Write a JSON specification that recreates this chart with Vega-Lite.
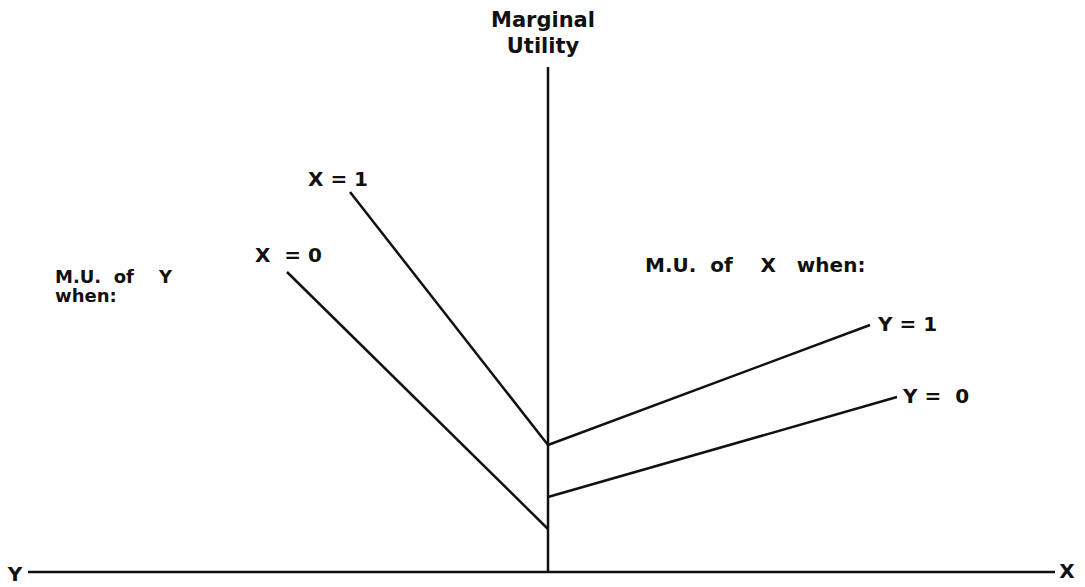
{
  "$schema": "https://vega.github.io/schema/vega-lite/v6.json",
  "width": 1085,
  "height": 587,
  "autosize": {"type": "fit", "contains": "padding"},
  "padding": 0,
  "background": "#ffffff",
  "config": {"view": {"stroke": null}},
  "datasets": {
    "segments": [
      {"seg": "vertical axis", "pt": 1, "u": 0, "v": 0},
      {"seg": "vertical axis", "pt": 2, "u": 0, "v": 101},
      {"seg": "horizontal axis", "pt": 1, "u": -104, "v": 0},
      {"seg": "horizontal axis", "pt": 2, "u": 101.4, "v": 0},
      {"seg": "MU of Y, X = 1", "pt": 1, "u": -39.6, "v": 76},
      {"seg": "MU of Y, X = 1", "pt": 2, "u": 0, "v": 25.4},
      {"seg": "MU of Y, X = 0", "pt": 1, "u": -52.2, "v": 60},
      {"seg": "MU of Y, X = 0", "pt": 2, "u": 0, "v": 8.6},
      {"seg": "MU of X, Y = 1", "pt": 1, "u": 0, "v": 25.4},
      {"seg": "MU of X, Y = 1", "pt": 2, "u": 64.4, "v": 49.4},
      {"seg": "MU of X, Y = 0", "pt": 1, "u": 0, "v": 15},
      {"seg": "MU of X, Y = 0", "pt": 2, "u": 69.8, "v": 35}
    ],
    "leftLabels": [
      {"label": "X\u00a0\u00a0=\u00a00", "u": -58.6, "v": 63.2},
      {"label": "X = 1", "u": -48, "v": 78.4},
      {"label": "M.U.\u00a0\u00a0of\u00a0\u00a0\u00a0\u00a0X\u00a0\u00a0\u00a0when:", "u": 19.4, "v": 61.2},
      {"label": "Y = 1", "u": 66, "v": 49.4},
      {"label": "Y =\u00a0\u00a00", "u": 71, "v": 35}
    ],
    "noteLabels": [
      {"label": "M.U.\u00a0\u00a0of\u00a0\u00a0\u00a0\u00a0Y\nwhen:", "u": -98.6, "v": 58.8}
    ],
    "titleLabels": [
      {"label": "Marginal\nUtility", "u": -1, "v": 110.3}
    ],
    "axisLabels": [
      {"label": "Y", "u": -106.6, "v": -0.6},
      {"label": "X", "u": 103.8, "v": 0}
    ]
  },
  "layer": [
    {
      "data": {"name": "segments"},
      "mark": {"type": "line", "stroke": "#111111", "strokeWidth": 2.5},
      "encoding": {
        "x": {"field": "u", "type": "quantitative", "scale": {"domain": [-109.6, 107.4], "nice": false, "zero": false}, "axis": null},
        "y": {"field": "v", "type": "quantitative", "scale": {"domain": [-3, 114.4], "nice": false, "zero": false}, "axis": null},
        "detail": {"field": "seg", "type": "nominal"},
        "order": {"field": "pt", "type": "quantitative"}
      }
    },
    {
      "data": {"name": "leftLabels"},
      "mark": {"type": "text", "align": "left", "baseline": "middle", "font": "DejaVu Sans", "fontWeight": "bold", "fontSize": 20, "fill": "#111111"},
      "encoding": {
        "x": {"field": "u", "type": "quantitative"},
        "y": {"field": "v", "type": "quantitative"},
        "text": {"field": "label"}
      }
    },
    {
      "data": {"name": "noteLabels"},
      "mark": {"type": "text", "align": "left", "baseline": "middle", "font": "DejaVu Sans", "fontWeight": "bold", "fontSize": 18, "lineBreak": "\n", "lineHeight": 19, "fill": "#111111"},
      "encoding": {
        "x": {"field": "u", "type": "quantitative"},
        "y": {"field": "v", "type": "quantitative"},
        "text": {"field": "label"}
      }
    },
    {
      "data": {"name": "titleLabels"},
      "mark": {"type": "text", "align": "center", "baseline": "middle", "font": "DejaVu Sans", "fontWeight": "bold", "fontSize": 21, "lineBreak": "\n", "lineHeight": 26, "fill": "#111111"},
      "encoding": {
        "x": {"field": "u", "type": "quantitative"},
        "y": {"field": "v", "type": "quantitative"},
        "text": {"field": "label"}
      }
    },
    {
      "data": {"name": "axisLabels"},
      "mark": {"type": "text", "align": "center", "baseline": "middle", "font": "DejaVu Sans", "fontWeight": "bold", "fontSize": 20, "fill": "#111111"},
      "encoding": {
        "x": {"field": "u", "type": "quantitative"},
        "y": {"field": "v", "type": "quantitative"},
        "text": {"field": "label"}
      }
    }
  ]
}
